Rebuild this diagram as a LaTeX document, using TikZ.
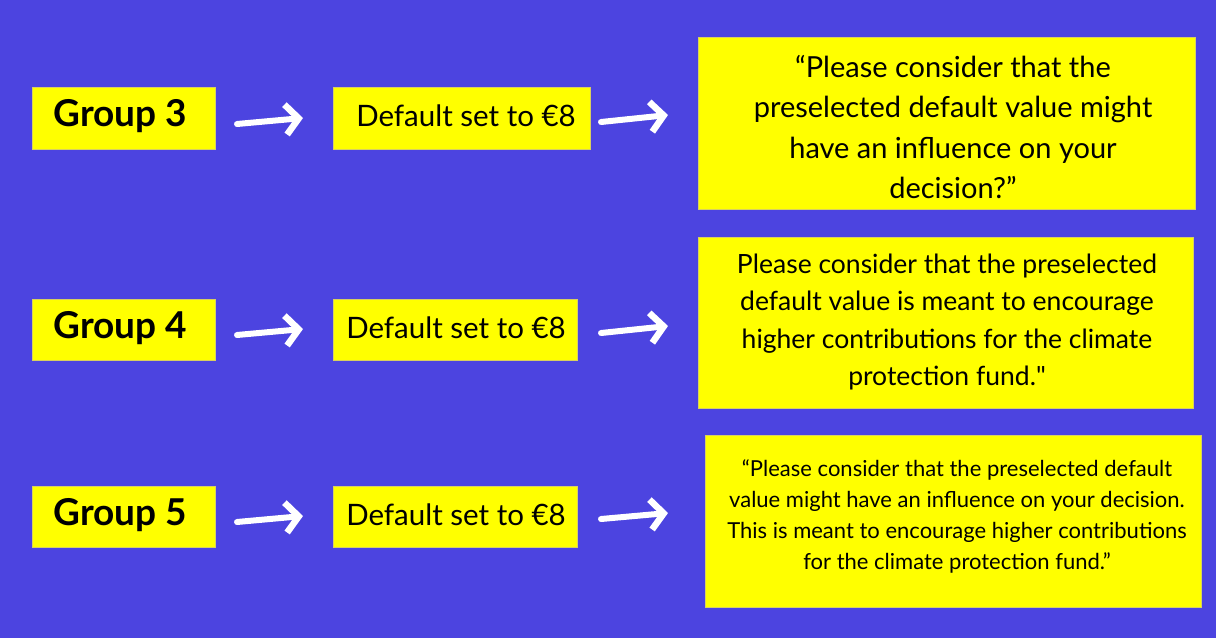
\documentclass[tikz,border=0pt]{standalone}
\usepackage{fontspec}
\setmainfont{Lato}
\usetikzlibrary{arrows.meta,calc}
\definecolor{bgblue}{HTML}{4C44E0}
\definecolor{boxyellow}{HTML}{FFFF00}
\definecolor{boxedge}{HTML}{D8D060}
\tikzset{
  ybox/.style={fill=boxyellow, draw=boxedge, line width=1pt},
  harrow/.style={draw=white, line width=6pt, line cap=round, line join=round,
    -{Straight Barb[length=13pt, width=30pt, line width=6.5pt]}},
  grouptxt/.style={font=\fontsize{37}{40}\selectfont\bfseries, text=black},
  deftxt/.style={font=\fontsize{29.5}{32}\selectfont, text=black},
}
\begin{document}
\begin{tikzpicture}[x=1pt,y=-1pt]
\useasboundingbox[fill=bgblue] (0,0) rectangle (1216,638);

% Row 3
\draw[ybox] (32,87) rectangle (215,149);
\node[grouptxt] (g3) at (120.5,116) {Group 3};
\coordinate (g3e) at (215,118);
\draw[ybox] (333,87) rectangle (590,149);
\node[deftxt] (d3) at (466,116) {Default set to €8};
\coordinate (d3w) at (333,118);
\coordinate (d3e) at (590,118);
\draw[ybox] (698,37) rectangle (1195,209);
\node[align=center, font=\fontsize{29}{40.5}\selectfont] (q3) at (953,127) {“Please consider that the\\preselected default value might\\have an influence on your\\decision?”};
\coordinate (q3w) at (698,118);

% Row 4
\draw[ybox] (32,299) rectangle (215,360);
\node[grouptxt] (g4) at (120.5,328) {Group 4};
\coordinate (g4e) at (215,330);
\draw[ybox] (333,299) rectangle (577,360);
\node[deftxt] (d4) at (456,328) {Default set to €8};
\coordinate (d4w) at (333,330);
\coordinate (d4e) at (577,330);
\draw[ybox] (698,237) rectangle (1193,408);
\node[align=center, font=\fontsize{26.5}{37.5}\selectfont] (q4) at (947,322) {Please consider that the preselected\\default value is meant to encourage\\higher contributions for the climate\\protection fund.\textquotedbl};
\coordinate (q4w) at (698,330);

% Row 5
\draw[ybox] (32,486) rectangle (215,547);
\node[grouptxt] (g5) at (120.5,515) {Group 5};
\coordinate (g5e) at (215,517);
\draw[ybox] (333,486) rectangle (577,547);
\node[deftxt] (d5) at (456,515) {Default set to €8};
\coordinate (d5w) at (333,517);
\coordinate (d5e) at (577,517);
\draw[ybox] (705,435) rectangle (1201,607);
\node[align=center, font=\fontsize{22}{31}\selectfont] (q5) at (957,516) {“Please consider that the preselected default\\value might have an influence on your decision.\\This is meant to encourage higher contributions\\for the climate protection fund.”};
\coordinate (q5w) at (705,517);

% Arrows
\draw[harrow] ($(g3e)+(22,6)$) -- ($(d3w)+(-30,0)$);
\draw[harrow] ($(d3e)+(11,4)$) -- ($(q3w)+(-30,-3)$);
\draw[harrow] ($(g4e)+(22,5)$) -- ($(d4w)+(-30,-1)$);
\draw[harrow] ($(d4e)+(24,3)$) -- ($(q4w)+(-30,-4)$);
\draw[harrow] ($(g5e)+(22,5)$) -- ($(d5w)+(-30,-1)$);
\draw[harrow] ($(d5e)+(24,2)$) -- ($(q5w)+(-37,-4)$);
\end{tikzpicture}
\end{document}
